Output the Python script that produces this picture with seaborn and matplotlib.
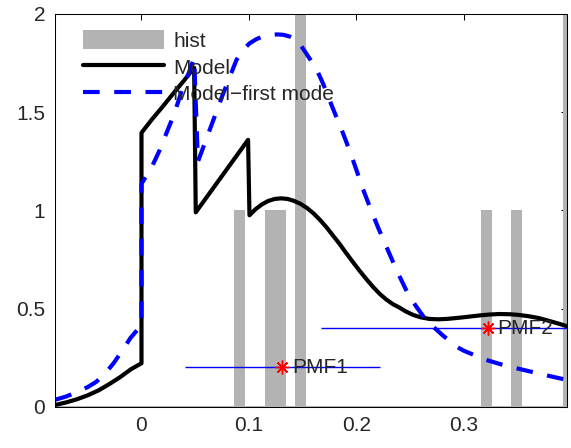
import numpy as np
import pandas as pd
import matplotlib
matplotlib.use("Agg")
import matplotlib.pyplot as plt
import seaborn as sns

# --- data ---
# histogram bars (centre, width, height)
hist_x = [0.0914, 0.1248, 0.1484, 0.3209, 0.3493, 0.3975]
hist_w = [0.0106, 0.0202, 0.0102, 0.0106, 0.0102, 0.0106]
hist_h = [1, 1, 2, 1, 1, 2]

# model curve (jumps at 0, 0.05 and 0.1)
model_x = [-0.080, -0.070, -0.060, -0.050, -0.040, -0.030, -0.020, -0.010, -0.003, 0.0,
           0.0, 0.010, 0.020, 0.030, 0.040, 0.049,
           0.0505, 0.0992,
           0.1005, 0.106, 0.112, 0.118, 0.124, 0.130, 0.136, 0.142, 0.148, 0.154,
           0.160, 0.166, 0.172, 0.178, 0.1845, 0.190, 0.196, 0.203, 0.210, 0.216,
           0.222, 0.228, 0.234, 0.240, 0.246, 0.253, 0.260, 0.268, 0.276, 0.284,
           0.292, 0.299, 0.307, 0.315, 0.323, 0.333, 0.342, 0.350, 0.360, 0.370,
           0.380, 0.390, 0.397]
model_y = [0.009, 0.022, 0.038, 0.058, 0.083, 0.115, 0.150, 0.190, 0.212, 0.221,
           1.395, 1.465, 1.530, 1.598, 1.664, 1.726,
           0.990, 1.359,
           0.975, 1.005, 1.030, 1.048, 1.058, 1.061, 1.058, 1.048, 1.033, 1.012,
           0.985, 0.952, 0.915, 0.873, 0.828, 0.786, 0.742, 0.692, 0.645, 0.607,
           0.573, 0.545, 0.522, 0.505, 0.485, 0.467, 0.455, 0.447, 0.445, 0.447,
           0.451, 0.455, 0.460, 0.465, 0.469, 0.472, 0.471, 0.468, 0.461, 0.451,
           0.436, 0.420, 0.408]

# model - first mode
mode_x = [-0.080, -0.070, -0.060, -0.050, -0.042, -0.034, -0.026, -0.018, -0.010, -0.004, 0.0,
          0.0, 0.005, 0.010, 0.017, 0.023, 0.0294, 0.034, 0.0387, 0.044, 0.049,
          0.0525, 0.0635, 0.0759, 0.0884, 0.095, 0.1007, 0.107, 0.113, 0.1194, 0.126,
          0.132, 0.138, 0.145, 0.152, 0.158, 0.1628, 0.169, 0.175, 0.181, 0.1875,
          0.194, 0.200, 0.206, 0.2124, 0.220, 0.2279, 0.234, 0.2403, 0.248, 0.2558,
          0.263, 0.2713, 0.280, 0.287, 0.293, 0.300, 0.310, 0.3209, 0.335, 0.3488,
          0.365, 0.3798, 0.397]
mode_y = [0.036, 0.052, 0.075, 0.100, 0.127, 0.168, 0.221, 0.285, 0.352, 0.390, 0.410,
          1.135, 1.180, 1.225, 1.308, 1.390, 1.477, 1.550, 1.630, 1.700, 1.775,
          1.248, 1.410, 1.593, 1.766, 1.820, 1.851, 1.872, 1.886, 1.893, 1.896,
          1.894, 1.885, 1.866, 1.810, 1.760, 1.720, 1.645, 1.562, 1.480, 1.393,
          1.300, 1.206, 1.110, 1.019, 0.915, 0.815, 0.738, 0.662, 0.575, 0.509,
          0.455, 0.408, 0.365, 0.333, 0.306, 0.285, 0.262, 0.238, 0.215, 0.196,
          0.175, 0.156, 0.135]

# PMF points with horizontal spread
pmf_x = [0.131, 0.3225]
pmf_y = [0.2, 0.4]
pmf_err = [0.0907, 0.155]
pmf_labels = ["PMF1", "PMF2"]

# --- figure ---
sns.set_style("white")
plt.rcParams["font.family"] = ["Liberation Sans", "DejaVu Sans"]
plt.rcParams["font.size"] = 15

fig = plt.figure(figsize=(5.71, 4.48), dpi=100)
ax = fig.add_axes([0.0963, 0.0922, 0.8967, 0.8766])

grey = "#b3b3b3"
bars = ax.bar(hist_x, hist_h, width=hist_w, color=grey, edgecolor="none", label="hist", zorder=1)
ax.axhline(0, color=grey, lw=1.5, zorder=2.6)

sns.lineplot(x=model_x, y=model_y, estimator=None, sort=False, color="black",
             lw=3, label="Model", ax=ax, zorder=3)
sns.lineplot(x=mode_x, y=mode_y, estimator=None, sort=False, color="blue",
             lw=3, ls=(0, (4, 3.5)), label="Model\u2212first mode", ax=ax, zorder=4)

ax.errorbar(pmf_x, pmf_y, xerr=pmf_err, fmt="none", ecolor="blue", elinewidth=1,
            capsize=0, zorder=5)
ax.plot(pmf_x, pmf_y, ls="none", marker=(8, 2, 0), color="red", ms=10, mew=1, zorder=6)
for x, y, t in zip(pmf_x, pmf_y, pmf_labels):
    ax.annotate(t, (x, y), xytext=(7, 0), textcoords="offset points",
                va="center", ha="left", fontsize=15, zorder=7)

ax.set_xlim(-0.0805, 0.396)
ax.set_ylim(0, 2)
ax.set_xticks([0, 0.1, 0.2, 0.3])
ax.set_xticklabels(["0", "0.1", "0.2", "0.3"])
ax.set_yticks([0, 0.5, 1, 1.5, 2])
ax.set_yticklabels(["0", "0.5", "1", "1.5", "2"])
ax.tick_params(direction="in", top=True, right=True, length=4, width=0.75,
               labelsize=15, pad=7, color="black")
for s in ax.spines.values():
    s.set_color("black")
    s.set_linewidth(0.75)

handles, labels = ax.get_legend_handles_labels()
order = [labels.index("hist"), labels.index("Model"), labels.index("Model\u2212first mode")]
ax.legend([handles[i] for i in order], [labels[i] for i in order],
          loc="upper left", bbox_to_anchor=(0.054, 0.958), frameon=False,
          borderpad=0, borderaxespad=0, handlelength=3.9, handleheight=1.0,
          handletextpad=0.45, labelspacing=0.3, fontsize=15)

fig.savefig("out.png", dpi=100)
